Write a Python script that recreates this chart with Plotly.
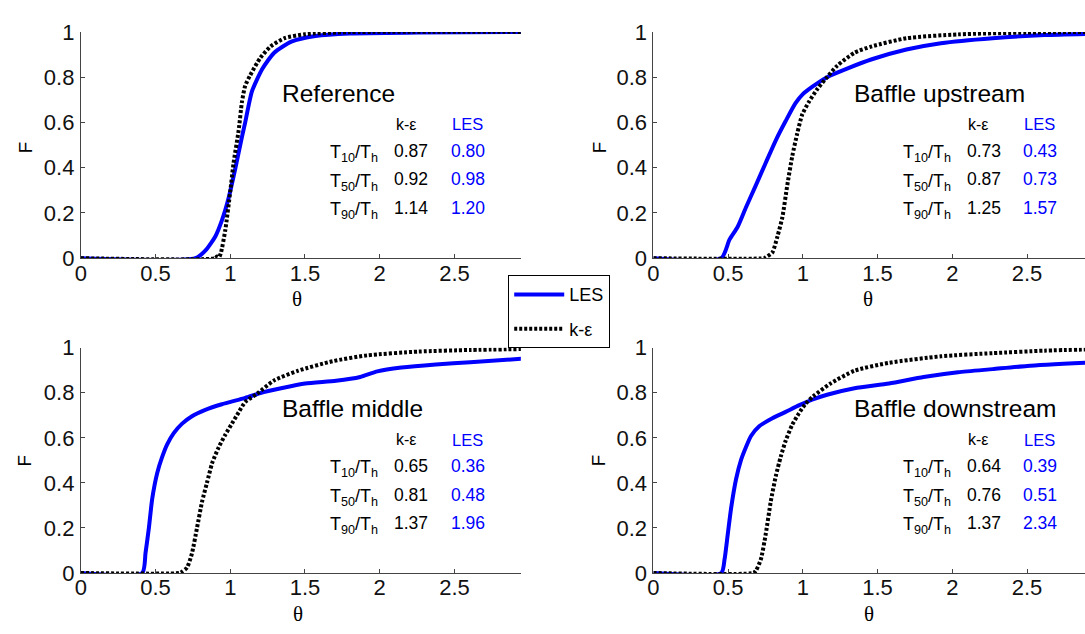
import plotly.graph_objects as go

# ---------------- data ----------------
panel_titles = ["Reference", "Baffle upstream", "Baffle middle", "Baffle downstream"]
row_labels = ["T<sub>10</sub>/T<sub>h</sub>", "T<sub>50</sub>/T<sub>h</sub>", "T<sub>90</sub>/T<sub>h</sub>"]
ke_values = [["0.87", "0.92", "1.14"], ["0.73", "0.87", "1.25"],
             ["0.65", "0.81", "1.37"], ["0.64", "0.76", "1.37"]]
les_values = [["0.80", "0.98", "1.20"], ["0.43", "0.73", "1.57"],
              ["0.36", "0.48", "1.96"], ["0.39", "0.51", "2.34"]]

x_ticks = [0, 0.5, 1, 1.5, 2, 2.5]
x_tick_labels = ["0", "0.5", "1", "1.5", "2", "2.5"]
y_ticks = [0, 0.2, 0.4, 0.6, 0.8, 1]
y_tick_labels = ["0", "0.2", "0.4", "0.6", "0.8", "1"]

# Reference
ref_les_theta = [0, 0.767, 0.833, 0.9, 0.944, 0.989, 1.033, 1.078, 1.1, 1.145, 1.214, 1.294, 1.409, 1.57, 1.8, 2.26, 2.95]
ref_les_F = [0, 0, 0.033, 0.096, 0.167, 0.266, 0.394, 0.535, 0.60, 0.737, 0.836, 0.908, 0.957, 0.982, 0.993, 0.997, 1.0]
ref_ke_theta = [0, 0.90, 0.911, 0.925, 0.938, 0.967, 1.0, 1.022, 1.056, 1.078, 1.1, 1.133, 1.202, 1.271, 1.363, 1.501, 1.8, 2.95]
ref_ke_F = [0, 0, 0.008, 0.005, 0.025, 0.125, 0.295, 0.42, 0.564, 0.69, 0.762, 0.808, 0.886, 0.936, 0.972, 0.990, 0.999, 1.0]

# Baffle upstream
up_les_theta = [0, 0.454, 0.509, 0.564, 0.619, 0.686, 0.752, 0.819, 0.885, 0.951, 1.0, 1.062, 1.162, 1.30, 1.462, 1.693, 1.924, 2.27, 2.617, 2.95]
up_les_F = [0, 0, 0.082, 0.139, 0.224, 0.323, 0.422, 0.521, 0.606, 0.685, 0.725, 0.757, 0.80, 0.839, 0.879, 0.922, 0.950, 0.972, 0.986, 0.992]
up_ke_theta = [0, 0.74, 0.752, 0.796, 0.83, 0.863, 0.896, 0.929, 0.962, 0.996, 1.04, 1.1, 1.162, 1.231, 1.346, 1.462, 1.693, 2.04, 2.5, 2.95]
up_ke_F = [0, 0, 0.004, 0.025, 0.096, 0.181, 0.323, 0.45, 0.55, 0.635, 0.69, 0.75, 0.80, 0.851, 0.908, 0.936, 0.972, 0.989, 0.997, 1.0]

# Baffle middle
mid_les_theta = [0, 0.411, 0.433, 0.456, 0.478, 0.511, 0.544, 0.578, 0.622, 0.678, 0.744, 0.833, 0.944, 1.1, 1.202, 1.34, 1.501, 1.708, 1.869, 1.984, 2.145, 2.375, 2.605, 2.949]
mid_les_F = [0, 0, 0.088, 0.202, 0.33, 0.443, 0.514, 0.571, 0.621, 0.663, 0.696, 0.724, 0.749, 0.777, 0.799, 0.82, 0.841, 0.853, 0.87, 0.895, 0.912, 0.926, 0.936, 0.951]
mid_ke_theta = [0, 0.66, 0.678, 0.711, 0.744, 0.778, 0.811, 0.844, 0.878, 0.922, 0.967, 1.011, 1.056, 1.1, 1.18, 1.294, 1.455, 1.685, 1.915, 2.26, 2.605, 2.949]
mid_ke_F = [0, 0, 0.006, 0.024, 0.088, 0.202, 0.315, 0.40, 0.486, 0.557, 0.614, 0.663, 0.713, 0.759, 0.796, 0.855, 0.898, 0.94, 0.966, 0.983, 0.99, 0.994]

# Baffle downstream
down_les_theta = [0, 0.454, 0.476, 0.498, 0.52, 0.553, 0.586, 0.619, 0.653, 0.708, 0.796, 0.885, 0.973, 1.062, 1.162, 1.346, 1.577, 1.808, 2.039, 2.27, 2.501, 2.95]
down_les_F = [0, 0, 0.06, 0.174, 0.288, 0.416, 0.501, 0.558, 0.608, 0.651, 0.687, 0.715, 0.744, 0.769, 0.791, 0.82, 0.841, 0.87, 0.891, 0.905, 0.919, 0.935]
down_ke_theta = [0, 0.67, 0.686, 0.719, 0.752, 0.785, 0.819, 0.852, 0.885, 0.929, 0.973, 1.018, 1.069, 1.185, 1.346, 1.577, 1.924, 2.27, 2.617, 2.95]
down_ke_F = [0, 0, 0.01, 0.06, 0.174, 0.316, 0.43, 0.516, 0.587, 0.658, 0.708, 0.751, 0.784, 0.841, 0.898, 0.933, 0.962, 0.976, 0.987, 0.993]

les_series = [(ref_les_theta, ref_les_F), (up_les_theta, up_les_F),
              (mid_les_theta, mid_les_F), (down_les_theta, down_les_F)]
ke_series = [(ref_ke_theta, ref_ke_F), (up_ke_theta, up_ke_F),
             (mid_ke_theta, mid_ke_F), (down_ke_theta, down_ke_F)]

# ---------------- layout geometry ----------------
W, H = 1085, 634
x_domains = [[75.2 / W, 517.7 / W], [651 / W, 1.0], [75.2 / W, 517.7 / W], [651 / W, 1.0]]
x_ranges = [[0, 2.944], [0, 2.888], [0, 2.944], [0, 2.888]]
y_domains = [[1 - 256.3 / H, 1 - 20.7 / H], [1 - 256.3 / H, 1 - 20.7 / H],
             [1 - 584 / H, 1 - 349.5 / H], [1 - 584 / H, 1 - 349.5 / H]]

SANS = "Liberation Sans, Arial, sans-serif"
SERIF = "Liberation Serif, Times New Roman, serif"
BLUE = "#0000ff"

fig = go.Figure()

for i in range(4):
    xa = "x" if i == 0 else f"x{i + 1}"
    ya = "y" if i == 0 else f"y{i + 1}"
    th, F = les_series[i]
    fig.add_trace(go.Scatter(x=th, y=F, mode="lines", name="LES",
                             line=dict(color=BLUE, width=4, shape="spline", smoothing=0.6),
                             xaxis=xa, yaxis=ya, showlegend=(i == 0),
                             legendgroup="les"))
    th, F = ke_series[i]
    fig.add_trace(go.Scatter(x=th, y=F, mode="lines", name="k-\u03b5",
                             line=dict(color="black", width=4, dash="3px,2px",
                                       shape="spline", smoothing=0.6),
                             xaxis=xa, yaxis=ya, showlegend=(i == 0),
                             legendgroup="ke"))

axis_common = dict(showline=True, linecolor="#444", linewidth=1, ticks="inside",
                   ticklen=4, tickcolor="#444", showgrid=False, zeroline=False,
                   tickfont=dict(family=SANS, size=22, color="#111"))

layout_axes = {}
for i in range(4):
    xk = "xaxis" if i == 0 else f"xaxis{i + 1}"
    yk = "yaxis" if i == 0 else f"yaxis{i + 1}"
    ya = "y" if i == 0 else f"y{i + 1}"
    xa = "x" if i == 0 else f"x{i + 1}"
    layout_axes[xk] = dict(domain=x_domains[i], range=x_ranges[i], anchor=ya,
                           tickvals=x_ticks, ticktext=x_tick_labels,
                           ticklabelstandoff=-5, **axis_common)
    layout_axes[yk] = dict(domain=y_domains[i], range=[0, 1], anchor=xa,
                           tickvals=y_ticks, ticktext=y_tick_labels,
                           ticklabelstandoff=1, **axis_common)

annotations = []
title_x, title_y = 1.358, 0.728
head_y = 0.592
row_y = [0.463, 0.336, 0.210]
lab_x, ke_x, les_x = 1.988, 2.21, 2.588
head_ke_x, head_les_x = 2.174, 2.585
for i in range(4):
    xr = "x" if i == 0 else f"x{i + 1}"
    yr = "y" if i == 0 else f"y{i + 1}"
    annotations.append(dict(x=title_x, y=title_y, xref=xr, yref=yr, text=panel_titles[i],
                            showarrow=False, xanchor="left", yanchor="middle", xshift=-4,
                            font=dict(family=SANS, size=24.5, color="black")))
    annotations.append(dict(x=head_ke_x, y=head_y, xref=xr, yref=yr, text="k-\u03b5",
                            showarrow=False, xanchor="center", yanchor="middle",
                            font=dict(family=SANS, size=16, color="black")))
    annotations.append(dict(x=head_les_x, y=head_y, xref=xr, yref=yr, text="LES",
                            showarrow=False, xanchor="center", yanchor="middle",
                            font=dict(family=SANS, size=16.5, color=BLUE)))
    for r in range(3):
        annotations.append(dict(x=lab_x, y=row_y[r], xref=xr, yref=yr, text=row_labels[r],
                                showarrow=False, xanchor="right", yanchor="middle", xshift=2,
                                font=dict(family=SANS, size=18, color="black")))
        annotations.append(dict(x=ke_x, y=row_y[r] + 0.012, xref=xr, yref=yr, text=ke_values[i][r],
                                showarrow=False, xanchor="center", yanchor="middle",
                                font=dict(family=SANS, size=17.5, color="black")))
        annotations.append(dict(x=les_x, y=row_y[r] + 0.012, xref=xr, yref=yr, text=les_values[i][r],
                                showarrow=False, xanchor="center", yanchor="middle",
                                font=dict(family=SANS, size=17.5, color=BLUE)))

# axis titles
f_pos = [(20, 141), (597, 141), (19, 467), (596, 467)]
theta_pos = [(293, 299), (867, 299), (294, 627), (868, 627)]
for (fx, fy) in f_pos:
    annotations.append(dict(x=fx / W, y=1 - fy / H, xref="paper", yref="paper", text="F",
                            showarrow=False, textangle=-90, xanchor="center", yanchor="middle",
                            font=dict(family=SANS, size=19, color="black")))
for (tx, ty) in theta_pos:
    annotations.append(dict(x=tx / W, y=1 - ty / H, xref="paper", yref="paper", text="\u03b8",
                            showarrow=False, xanchor="center", yanchor="middle",
                            font=dict(family=SERIF, size=21, color="black")))

fig.update_layout(
    width=W, height=H,
    margin=dict(l=0, r=0, t=0, b=0),
    paper_bgcolor="white", plot_bgcolor="white",
    showlegend=True,
    legend=dict(x=505 / W, y=1 - 274 / H, xanchor="left", yanchor="top",
                bgcolor="white", bordercolor="black", borderwidth=1,
                font=dict(family=SANS, size=18, color="black"),
                itemwidth=50, tracegroupgap=8, traceorder="grouped"),
    annotations=annotations,
    **layout_axes,
)

fig.write_html("out.html")
